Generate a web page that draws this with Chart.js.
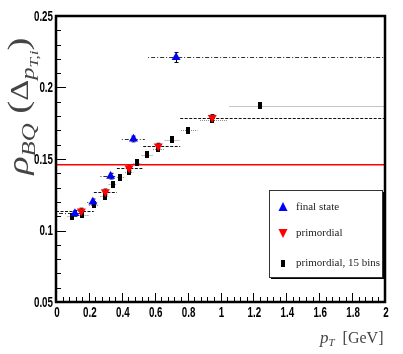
<!DOCTYPE html>
<html>
<head>
<meta charset="utf-8">
<script src="https://cdn.jsdelivr.net/npm/chart.js@4.4.1/dist/chart.umd.min.js"></script>
<style>
  html, body { margin: 0; padding: 0; background: #fff; }
  #wrap { width: 403px; height: 354px; }
</style>
</head>
<body>
<div id="wrap"><canvas id="c" width="403" height="354"></canvas></div>
<script>
// ---- data ----
const finalX  = [0.115, 0.224, 0.332, 0.471, 0.73];
const finalY  = [0.112, 0.120, 0.138, 0.164, 0.221];
const finalLo = [0.00, 0.19, 0.27, 0.40, 0.56];
const finalHi = [0.17, 0.25, 0.36, 0.54, 2.00];
const finalEy = [0.002, 0.002, 0.002, 0.002, 0.0035];

const primX  = [0.154, 0.30, 0.444, 0.622, 0.95];
const primY  = [0.1136, 0.127, 0.1437, 0.159, 0.179];
const primLo = [0.00, 0.23, 0.37, 0.53, 0.755];
const primHi = [0.23, 0.37, 0.53, 0.755, 2.00];
const primEy = [0.002, 0.002, 0.002, 0.002, 0.002];

const binX  = [0.10, 0.16, 0.23, 0.30, 0.345, 0.391, 0.444, 0.492, 0.551, 0.62, 0.705, 0.802, 0.95, 1.239];
const binY  = [0.110, 0.111, 0.118, 0.1241, 0.1323, 0.1372, 0.1411, 0.1474, 0.1528, 0.157, 0.1635, 0.1701, 0.1776, 0.1873];
const binLo = [0.07, 0.13, 0.20, 0.27, 0.32, 0.37, 0.42, 0.47, 0.52, 0.59, 0.66, 0.76, 0.875, 1.055];
const binHi = [0.13, 0.20, 0.26, 0.32, 0.37, 0.42, 0.47, 0.52, 0.59, 0.66, 0.75, 0.86, 1.045, 2.00];

const avgLevel = 0.146;
const xTicks = [0, 0.2, 0.4, 0.6, 0.8, 1, 1.2, 1.4, 1.6, 1.8, 2];
const yTicks = [0.05, 0.1, 0.15, 0.2, 0.25];

const AREA = { left: 56, right: 385, top: 16, bottom: 302 };
const serif = "'Liberation Serif', 'DejaVu Serif', serif";
const labelFont = "bold 14px 'Liberation Sans', Arial, sans-serif";

// small upright black box used as the 15-bin marker
const boxMark = document.createElement('canvas');
boxMark.width = 4; boxMark.height = 7;
(function () { const g = boxMark.getContext('2d'); g.fillStyle = '#000'; g.fillRect(0, 0, 4, 7); })();

const pts = (xs, ys) => xs.map((x, i) => ({ x, y: ys[i] }));

const errorSets = [
  { xs: finalX, ys: finalY, lo: finalLo, hi: finalHi, ey: finalEy, dash: [1, 2, 4, 2], color: '#333' },
  { xs: primX,  ys: primY,  lo: primLo,  hi: primHi,  ey: primEy,  dash: [3, 1.5],    color: '#111' },
  { xs: binX,   ys: binY,   lo: binLo,   hi: binHi,   ey: null,    dash: [1, 1],      color: '#8a8a8a' }
];

const errorBars = {
  id: 'errorBars',
  beforeDatasetsDraw(chart) {
    const { ctx, scales: { x, y } } = chart;
    ctx.save();
    ctx.lineWidth = 1;
    // 15-bin bars first, so the others sit on top
    [...errorSets].reverse().forEach(s => {
      ctx.strokeStyle = s.color;
      ctx.setLineDash(s.dash);
      s.xs.forEach((xv, i) => {
        const py = Math.round(y.getPixelForValue(s.ys[i])) + 0.5;
        ctx.beginPath();
        ctx.moveTo(x.getPixelForValue(s.lo[i]), py);
        ctx.lineTo(x.getPixelForValue(s.hi[i]), py);
        ctx.stroke();
      });
      if (s.ey) {
        ctx.setLineDash([]);
        ctx.strokeStyle = '#000';
        s.xs.forEach((xv, i) => {
          const px = Math.round(x.getPixelForValue(xv)) + 0.5;
          const t = y.getPixelForValue(s.ys[i] + s.ey[i]);
          const b = y.getPixelForValue(s.ys[i] - s.ey[i]);
          ctx.beginPath();
          ctx.moveTo(px, t); ctx.lineTo(px, b);
          ctx.moveTo(px - 2, t); ctx.lineTo(px + 2, t);
          ctx.moveTo(px - 2, b); ctx.lineTo(px + 2, b);
          ctx.stroke();
        });
      }
    });
    ctx.restore();
  }
};

// condensed bold tick labels, placed from the scales' own ticks
function drawLabel(ctx, text, px, py, align) {
  ctx.save();
  ctx.translate(px, py);
  ctx.scale(0.7, 1);
  ctx.textAlign = align;
  ctx.fillText(text, 0, 0);
  ctx.restore();
}

const frame = {
  id: 'frame',
  afterDraw(chart) {
    const { ctx, chartArea: a, scales: { x, y } } = chart;
    ctx.save();
    ctx.strokeStyle = '#000';
    ctx.setLineDash([]);
    // tick marks, pointing inwards
    ctx.lineWidth = 1;
    ctx.beginPath();
    for (let k = 0; k <= 20; k++) {
      const v = 0.05 + k * 0.01;
      const py = Math.round(y.getPixelForValue(v)) + 0.5;
      const len = (k % 5 === 0) ? 10 : 5;
      ctx.moveTo(a.left, py); ctx.lineTo(a.left + len, py);
    }
    for (let k = 0; k <= 50; k++) {
      const v = k * 0.04;
      const px = Math.round(x.getPixelForValue(v)) + 0.5;
      const len = (k % 5 === 0) ? 9 : 5;
      ctx.moveTo(px, a.bottom); ctx.lineTo(px, a.bottom - len);
    }
    ctx.stroke();
    // frame
    ctx.lineWidth = 2.5;
    ctx.strokeRect(a.left, a.top, a.right - a.left, a.bottom - a.top);

    // tick labels
    ctx.fillStyle = '#000';
    ctx.font = labelFont;
    ctx.textBaseline = 'middle';
    y.ticks.forEach(t => drawLabel(ctx, String(+t.value.toFixed(2)), a.left - 3, y.getPixelForValue(t.value) + 1, 'right'));
    x.ticks.forEach(t => drawLabel(ctx, String(+t.value.toFixed(1)), x.getPixelForValue(t.value) + 1, a.bottom + 11, 'center'));

    // legend box with shadow
    const L = { x: 269, y: 190, w: 113, h: 87 };
    ctx.fillStyle = '#000';
    ctx.fillRect(L.x + 2, L.y + 2, L.w, L.h);
    ctx.fillStyle = '#fff';
    ctx.fillRect(L.x, L.y, L.w, L.h);
    ctx.lineWidth = 1;
    ctx.strokeStyle = '#333';
    ctx.strokeRect(L.x + 0.5, L.y + 0.5, L.w, L.h);

    const ds = chart.data.datasets;
    const rows = [207, 233, 263];
    ctx.fillStyle = ds[0].backgroundColor;
    ctx.beginPath(); ctx.moveTo(283, rows[0] - 5); ctx.lineTo(287.5, rows[0] + 4); ctx.lineTo(278.5, rows[0] + 4); ctx.closePath(); ctx.fill();
    ctx.fillStyle = ds[1].backgroundColor;
    ctx.beginPath(); ctx.moveTo(283, rows[1] + 5); ctx.lineTo(287.5, rows[1] - 4); ctx.lineTo(278.5, rows[1] - 4); ctx.closePath(); ctx.fill();
    ctx.drawImage(boxMark, 281, rows[2] - 3);
    ctx.fillStyle = '#222';
    ctx.font = '11px ' + serif;
    ctx.textBaseline = 'middle';
    ctx.textAlign = 'left';
    [0, 1, 2].forEach(i => ctx.fillText(ds[i].label, 296, rows[i]));

    // y axis title: rho_BQ (Delta_{pT,i}), rotated and stretched along the text
    ctx.fillStyle = '#444';
    ctx.translate(28, 106);
    ctx.rotate(-Math.PI / 2);
    ctx.scale(1.3, 1);
    const parts = [
      { t: '\u03C1', f: 'italic 29px ' + serif, dy: 0 },
      { t: 'BQ', f: 'italic 19px ' + serif, dy: 7 },
      { t: ' (', f: '30px ' + serif, dy: 0 },
      { t: '\u0394', f: '25px ' + serif, dy: 0 },
      { t: 'p', f: 'italic 19px ' + serif, dy: 6 },
      { t: 'T,i', f: 'italic 13px ' + serif, dy: 10 },
      { t: ')', f: '30px ' + serif, dy: 0 }
    ];
    let total = 0;
    parts.forEach(p => { ctx.font = p.f; p.w = ctx.measureText(p.t).width; total += p.w; });
    let cx = -total / 2;
    ctx.textBaseline = 'alphabetic';
    parts.forEach(p => { ctx.font = p.f; ctx.fillText(p.t, cx, p.dy); cx += p.w; });
    ctx.setTransform(1, 0, 0, 1, 0, 0);

    // x axis title
    ctx.fillStyle = '#444';
    let tx = 320;
    const xparts = [
      { t: 'p', f: 'italic 17px ' + serif, dy: 0 },
      { t: 'T', f: 'italic 11px ' + serif, dy: 3 },
      { t: '  [GeV]', f: '16px ' + serif, dy: 0 }
    ];
    xparts.forEach(p => { ctx.font = p.f; ctx.fillText(p.t, tx, 343 + p.dy); tx += ctx.measureText(p.t).width; });
    ctx.restore();
  }
};

new Chart(document.getElementById('c'), {
  type: 'scatter',
  data: {
    datasets: [
      { label: 'final state', data: pts(finalX, finalY), backgroundColor: '#0000ff', borderColor: '#0000ff',
        pointStyle: 'triangle', pointRadius: 5.2, borderWidth: 0, order: 0 },
      { label: 'primordial', data: pts(primX, primY), backgroundColor: '#ff0000', borderColor: '#ff0000',
        pointStyle: 'triangle', rotation: 180, pointRadius: 5.2, borderWidth: 0, order: 1 },
      { label: 'primordial, 15 bins', data: pts(binX, binY), backgroundColor: '#000', borderColor: '#000',
        pointStyle: boxMark, order: 2 },
      { type: 'line', label: 'average', data: [{ x: 0, y: avgLevel }, { x: 2, y: avgLevel }],
        borderColor: '#ff0000', borderWidth: 1.5, pointRadius: 0, order: 3 }
    ]
  },
  options: {
    responsive: false,
    animation: false,
    events: [],
    layout: { padding: { top: AREA.top, right: 403 - AREA.right, left: 0, bottom: 0 } },
    plugins: { legend: { display: false }, tooltip: { enabled: false } },
    scales: {
      x: {
        type: 'linear', min: 0, max: 2,
        afterFit: s => { s.height = 354 - AREA.bottom; },
        afterBuildTicks: s => { s.ticks = xTicks.map(v => ({ value: v })); },
        grid: { display: false },
        border: { display: false },
        ticks: { display: false }
      },
      y: {
        type: 'linear', min: 0.05, max: 0.25,
        afterFit: s => { s.width = AREA.left; },
        afterBuildTicks: s => { s.ticks = yTicks.map(v => ({ value: v })); },
        grid: { display: false },
        border: { display: false },
        ticks: { display: false }
      }
    }
  },
  plugins: [errorBars, frame]
});
</script>
</body>
</html>
